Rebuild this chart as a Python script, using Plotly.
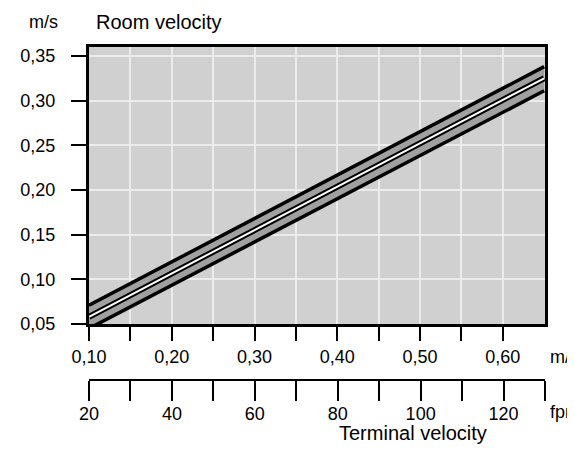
import plotly.graph_objects as go

# ---- data ----
terminal_ms = [0.10, 0.65]          # terminal velocity, m/s
room_upper = [0.071, 0.338]         # upper band limit, m/s
room_center = [0.058, 0.325]        # centre line, m/s
room_lower = [0.045, 0.311]         # lower band limit, m/s

x_tickvals = [0.10, 0.15, 0.20, 0.25, 0.30, 0.35, 0.40, 0.45, 0.50, 0.55, 0.60]
x_ticktext = ["0,10", "", "0,20", "", "0,30", "", "0,40", "", "0,50", "", "0,60"]
y_tickvals = [0.05, 0.10, 0.15, 0.20, 0.25, 0.30, 0.35]
y_ticktext = ["0,05", "0,10", "0,15", "0,20", "0,25", "0,30", "0,35"]
fpm_tickvals = [20, 30, 40, 50, 60, 70, 80, 90, 100, 110, 120, 130]
fpm_ticktext = ["20", "", "40", "", "60", "", "80", "", "100", "", "120", ""]

# ---- layout geometry (page pixels; the page body has an 8px margin) ----
OFF = 8
PAGE_W, PAGE_H = 575, 451
W, H = PAGE_W - OFF, PAGE_H - OFF
L, R, T, B_AX2 = 83 - OFF, 545 - OFF, 47 - OFF, 380 - OFF
B_MAIN = 324 - OFF
FONT = "Liberation Sans, Arial, Helvetica, sans-serif"
FS = 18
FS_TITLE = 20

def px(xp):
    return (xp - OFF - L) / (R - L)

def py(yp):
    return (B_AX2 - (yp - OFF)) / (B_AX2 - T)

fig = go.Figure()

fig.add_trace(go.Scatter(x=terminal_ms, y=room_lower, mode="lines",
                         line=dict(color="black", width=3.5), hoverinfo="skip"))
fig.add_trace(go.Scatter(x=terminal_ms, y=room_upper, mode="lines", fill="tonexty",
                         fillcolor="#a0a0a0",
                         line=dict(color="black", width=3.5), hoverinfo="skip"))
fig.add_trace(go.Scatter(x=terminal_ms, y=room_center, mode="lines",
                         line=dict(color="black", width=6), hoverinfo="skip"))
fig.add_trace(go.Scatter(x=terminal_ms, y=room_center, mode="lines",
                         line=dict(color="white", width=2), hoverinfo="skip"))
# invisible trace to carry the fpm axis
fig.add_trace(go.Scatter(x=fpm_tickvals, y=[y_tickvals[0]] * len(fpm_tickvals),
                         xaxis="x2", yaxis="y", mode="markers",
                         marker=dict(opacity=0), hoverinfo="skip"))

fig.update_layout(
    width=W, height=H,
    margin=dict(l=L, r=W - R, t=T, b=H - B_AX2, pad=0),
    paper_bgcolor="white",
    plot_bgcolor="#d0d0d0",
    showlegend=False,
    font=dict(family=FONT, size=FS, color="black"),
    xaxis=dict(
        range=[0.10, 0.651], anchor="y",
        tickvals=x_tickvals, ticktext=x_ticktext,
        ticks="outside", ticklen=14, tickwidth=2, tickcolor="black",
        ticklabelstandoff=0,
        showline=True, linewidth=3, linecolor="black", mirror=True,
        showgrid=True, gridcolor="#ececec", gridwidth=2,
        zeroline=False, fixedrange=True,
    ),
    yaxis=dict(
        range=[0.05, 0.36], domain=[(B_AX2 - B_MAIN) / (B_AX2 - T), 1],
        tickvals=y_tickvals, ticktext=y_ticktext,
        ticks="outside", ticklen=15, tickwidth=2, tickcolor="black",
        ticklabelstandoff=12,
        showline=True, linewidth=3, linecolor="black", mirror=True,
        showgrid=True, gridcolor="#ececec", gridwidth=2,
        zeroline=False, fixedrange=True,
    ),
    xaxis2=dict(
        range=[20, 130], overlaying="x", anchor="free", position=0, side="bottom",
        tickvals=fpm_tickvals, ticktext=fpm_ticktext,
        ticks="outside", ticklen=20, tickwidth=2, tickcolor="black",
        ticklabelstandoff=-3,
        showline=True, linewidth=2, linecolor="black",
        showgrid=False, zeroline=False, fixedrange=True,
    ),
)

ann = [
    ("m/s", 20, 22, "left", FS),
    ("Room velocity", 88, 22, "left", FS_TITLE),
    ("m/s", 548, 357, "left", FS),
    ("fpm", 548, 412, "left", FS),
    ("Terminal velocity", 411, 433, "center", FS_TITLE),
]
for text, xp, yp, anchor, size in ann:
    fig.add_annotation(text=text, xref="paper", yref="paper", x=px(xp), y=py(yp),
                       xanchor=anchor, yanchor="middle", showarrow=False,
                       font=dict(family=FONT, size=size, color="black"))

fig.write_html("out.html")
